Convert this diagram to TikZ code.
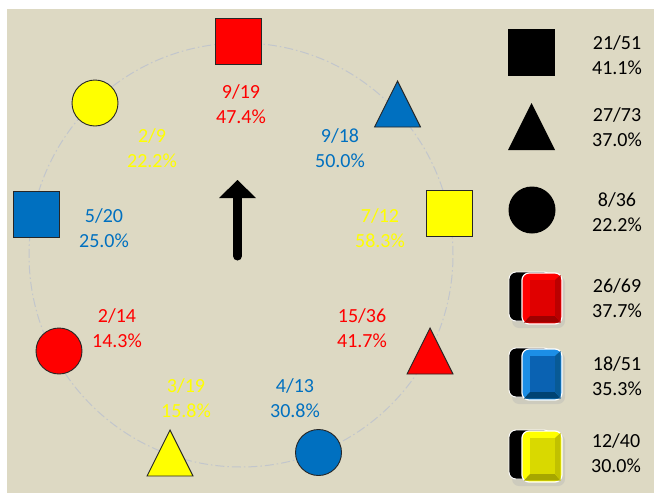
\documentclass[tikz,border=0pt]{standalone}
\usepackage{fontspec}
\setmainfont{Carlito}
\definecolor{bg}{HTML}{DDD9C3}
\definecolor{cblue}{HTML}{0070C0}
\definecolor{cred}{HTML}{FF0000}
\definecolor{cyel}{HTML}{FFFF00}
\definecolor{ringc}{HTML}{C2C6CC}
\definecolor{edge}{HTML}{262626}
\definecolor{lblue}{HTML}{1C8EE6}
\definecolor{fblue}{HTML}{0A62B2}
\tikzset{
  lbl/.style={align=center, inner sep=0pt, font=\fontsize{20}{25}\selectfont},
  sq/.style={draw=edge, line width=0.9pt, rectangle, minimum size=46pt, inner sep=0pt},
  circ/.style={draw=edge, line width=0.9pt, circle, minimum size=46pt, inner sep=0pt},
  tri/.pic={\path[pic actions] (-23,23) -- (0,-23) -- (23,23) -- cycle;},
}
\newcommand\legcube[4]{%
\begin{scope}[shift={(509,#1)}]
  \fill[black!30, opacity=0.35, rounded corners=7] (3,4) rectangle (56,56);
  \filldraw[fill=black, draw=white, line width=0.9pt, rounded corners=7] (0,0) rectangle (42,49);
  \filldraw[fill=#2, draw=white, line width=1.2pt, rounded corners=7] (13,1) rectangle (53,52);
  \fill[#4] (15,50.5) -- (21,44) -- (46,44) -- (51.5,50.5) -- cycle;
  \fill[#4!70!#2] (51.5,3) -- (46,8) -- (46,44) -- (51.5,50.5) -- cycle;
  \fill[#3] (21,8) rectangle (46,44);
\end{scope}}
\begin{document}
\begin{tikzpicture}[x=1pt,y=-1pt]
\useasboundingbox (0,0) rectangle (654,493);
\fill[white] (0,0) rectangle (654,493);
\fill[bg] (7,9) rectangle (654,493);
% dashed ring
\draw[ringc, line width=1pt, dash pattern=on 9pt off 3pt on 1.5pt off 3pt] (241,255) circle[radius=212pt];
% shapes on the ring
\node[sq, fill=cred] (s1) at (238,41) {};
\pic[fill=cblue, draw=edge, line width=0.9pt] (t1) at (397.5,104) {tri};
\node[sq, fill=cyel] (s2) at (449.5,213.5) {};
\pic[fill=cred, draw=edge, line width=0.9pt] (t2) at (430,351) {tri};
\node[circ, fill=cblue] (c1) at (318.5,452.5) {};
\pic[fill=cyel, draw=edge, line width=0.9pt] (t3) at (170,453) {tri};
\node[circ, fill=cred] (c2) at (59,351) {};
\node[sq, fill=cblue] (s3) at (36,214) {};
\node[circ, fill=cyel] (c3) at (95,103) {};
% labels
\node[lbl, text=cred] (l1) at (241,104) {9/19\\47.4\%};
\node[lbl, text=cblue] (l2) at (340,148) {9/18\\50.0\%};
\node[lbl, text=cyel] (l3) at (152,148) {2/9\\22.2\%};
\node[lbl, text=cblue] (l4) at (104,228) {5/20\\25.0\%};
\node[lbl, text=cyel] (l5) at (380,228) {7/12\\58.3\%};
\node[lbl, text=cred] (l6) at (117,328) {2/14\\14.3\%};
\node[lbl, text=cred] (l7) at (362,328) {15/36\\41.7\%};
\node[lbl, text=cyel] (l8) at (186,398) {3/19\\15.8\%};
\node[lbl, text=cblue] (l9) at (295,398) {4/13\\30.8\%};
% arrow
\coordinate (ab) at (237.5,256);
\coordinate (at) at (237.5,196);
\draw[line width=9pt, line cap=round] (ab) -- (at);
\fill (219,198) -- (237.5,180) -- (256,198) -- cycle;
% legend
\node[rectangle, fill=black, minimum size=47pt, inner sep=0pt] (ls) at (531.5,52.5) {};
\fill (508,150) -- (531.5,103) -- (555,150) -- cycle;
\node[circle, fill=black, minimum size=47pt, inner sep=0pt] (lc) at (532,210) {};
\legcube{272}{cred}{cred!88!black}{cred!62!black}
\legcube{348}{lblue}{fblue}{cblue!60!black}
\legcube{430}{cyel}{cyel!85!black}{cyel!65!black}
\node[lbl] (g1) at (617,55) {21/51\\41.1\%};
\node[lbl] (g2) at (617,127) {27/73\\37.0\%};
\node[lbl] (g3) at (617,212) {8/36\\22.2\%};
\node[lbl] (g4) at (617,298) {26/69\\37.7\%};
\node[lbl] (g5) at (617,376) {18/51\\35.3\%};
\node[lbl] (g6) at (616,453) {12/40\\30.0\%};
\end{tikzpicture}
\end{document}
